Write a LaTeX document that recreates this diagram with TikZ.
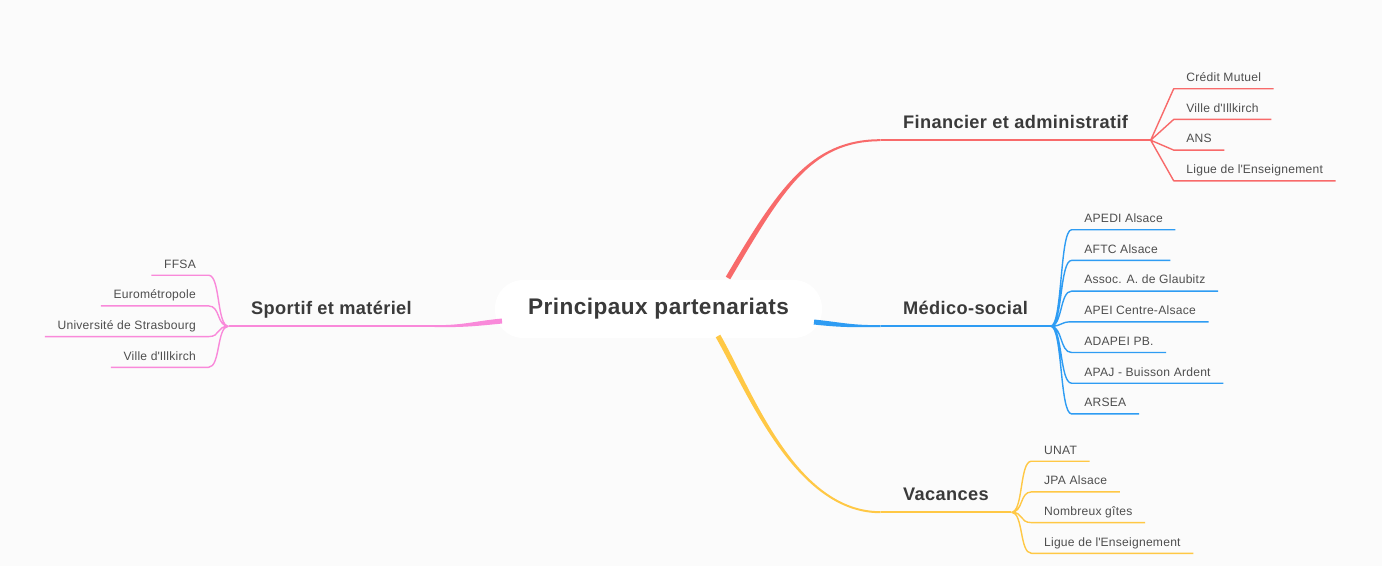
\documentclass[tikz,border=0pt]{standalone}
\usepackage{fontspec}
\setmainfont{Liberation Sans}[LetterSpace=2]
\usetikzlibrary{positioning,calc}

\definecolor{finred}{HTML}{F86A6A}
\definecolor{medblue}{HTML}{2E9CF3}
\definecolor{vacyellow}{HTML}{FFC845}
\definecolor{spopink}{HTML}{F989DA}
\definecolor{inkgray}{HTML}{3A3A3A}
\definecolor{paper}{HTML}{FBFBFB}

% tapered branch: colour, start, first control (offset), second control (dx from end), end, half width at start
\newcommand{\taperbranch}[7]{%
  \fill[#1] ($(#2)+(#6,#7)$) .. controls ($(#2)+(#3)+(#6,#7)$) and ($(#5)+(#4,1)$) .. ($(#5)+(0,1)$)
    -- ($(#5)-(0,1)$) .. controls ($(#5)+(#4,-1)$) and ($(#2)+(#3)-(#6,#7)$) .. ($(#2)-(#6,#7)$) -- cycle;}

\begin{document}
\begin{tikzpicture}[x=1pt,y=-1pt,node distance=10.3pt,
  centre node/.style={fill=white,rounded corners=28pt,minimum width=327pt,minimum height=58pt,
    font=\fontsize{22.6}{26}\selectfont\bfseries,text=inkgray},
  branch node/.style={inner xsep=22.5pt,inner ysep=8pt,text depth=4pt,
    font=\fontsize{18.2}{21}\selectfont\bfseries,text=inkgray},
  leaf node/.style={inner xsep=12.5pt,inner ysep=4pt,text height=9pt,text depth=3pt,
    font=\fontsize{12.1}{14}\selectfont,text=inkgray!90},
  branch line/.style={line width=2pt},
  leaf line/.style={line width=1.4pt,line join=round}]

  \useasboundingbox (0,0) rectangle (1382,566);
  \fill[paper] (0,0) rectangle (1382,566);

  \node[centre node] (root) at (658.5,309) {Principaux partenariats};

  % main branches
  \node[branch node,anchor=base west] (fin) at (880.5,128) {Financier et administratif};
  \node[branch node,anchor=base west] (med) at (880.5,314) {Médico-social};
  \node[branch node,anchor=base west] (vac) at (880.5,500) {Vacances};
  \node[branch node,anchor=base east] (spo) at (434.5,314) {Sportif et matériel};

  \taperbranch{finred}{728,278}{52,-88}{-70}{fin.south west}{2.2}{1.3}
  \taperbranch{medblue}{814,322}{28,3}{-30}{med.south west}{-0.3}{2.5}
  \taperbranch{vacyellow}{718,336}{32,56}{-85}{vac.south west}{-2.26}{1.29}
  \taperbranch{spopink}{502,321}{-30,3}{30}{spo.south east}{0.2}{2.5}

  \draw[finred,branch line] (fin.south west) -- (fin.south east);
  \draw[medblue,branch line] (med.south west) -- (med.south east);
  \draw[vacyellow,branch line] (vac.south west) -- (vac.south east);
  \draw[spopink,branch line] (spo.south west) -- (spo.south east);

  % leaves
  \node[leaf node,anchor=south west] (fin1) at ([shift={(23,-51.5)}]fin.south east) {Crédit Mutuel};
  \node[leaf node,below=of fin1.south west,anchor=north west] (fin2) {Ville d\textquotesingle Illkirch};
  \node[leaf node,below=of fin2.south west,anchor=north west] (fin3) {ANS};
  \node[leaf node,below=of fin3.south west,anchor=north west] (fin4) {Ligue de l\textquotesingle Enseignement};

  \node[leaf node,anchor=south west] (med1) at ([shift={(21,-96.5)}]med.south east) {APEDI Alsace};
  \node[leaf node,below=of med1.south west,anchor=north west] (med2) {AFTC Alsace};
  \node[leaf node,below=of med2.south west,anchor=north west] (med3) {Assoc. A. de Glaubitz};
  \node[leaf node,below=of med3.south west,anchor=north west] (med4) {APEI Centre-Alsace};
  \node[leaf node,below=of med4.south west,anchor=north west] (med5) {ADAPEI PB.};
  \node[leaf node,below=of med5.south west,anchor=north west] (med6) {APAJ - Buisson Ardent};
  \node[leaf node,below=of med6.south west,anchor=north west] (med7) {ARSEA};

  \node[leaf node,anchor=south west] (vac1) at ([shift={(20,-51)}]vac.south east) {UNAT};
  \node[leaf node,below=of vac1.south west,anchor=north west] (vac2) {JPA Alsace};
  \node[leaf node,below=of vac2.south west,anchor=north west] (vac3) {Nombreux gîtes};
  \node[leaf node,below=of vac3.south west,anchor=north west] (vac4) {Ligue de l\textquotesingle Enseignement};

  \node[leaf node,anchor=south east] (spo1) at ([shift={(-20,-51)}]spo.south west) {FFSA};
  \node[leaf node,below=of spo1.south east,anchor=north east] (spo2) {Eurométropole};
  \node[leaf node,below=of spo2.south east,anchor=north east] (spo3) {Université de Strasbourg};
  \node[leaf node,below=of spo3.south east,anchor=north east] (spo4) {Ville d\textquotesingle Illkirch};

  \draw[finred,leaf line]
    (fin.south east) -- (fin1.south west) -- (fin1.south east)
    (fin.south east) -- (fin2.south west) -- (fin2.south east)
    (fin.south east) -- (fin3.south west) -- (fin3.south east)
    (fin.south east) -- (fin4.south west) -- (fin4.south east);

  \draw[medblue,leaf line]
    (med.south east) .. controls +(12,0) and +(-12,0) .. (med1.south west) -- (med1.south east)
    (med.south east) .. controls +(12,0) and +(-12,0) .. (med2.south west) -- (med2.south east)
    (med.south east) .. controls +(12,0) and +(-12,0) .. (med3.south west) -- (med3.south east)
    (med.south east) .. controls +(12,0) and +(-12,0) .. (med4.south west) -- (med4.south east)
    (med.south east) .. controls +(12,0) and +(-12,0) .. (med5.south west) -- (med5.south east)
    (med.south east) .. controls +(12,0) and +(-12,0) .. (med6.south west) -- (med6.south east)
    (med.south east) .. controls +(12,0) and +(-12,0) .. (med7.south west) -- (med7.south east);

  \draw[vacyellow,leaf line]
    (vac.south east) .. controls +(12,0) and +(-12,0) .. (vac1.south west) -- (vac1.south east)
    (vac.south east) .. controls +(12,0) and +(-12,0) .. (vac2.south west) -- (vac2.south east)
    (vac.south east) .. controls +(12,0) and +(-12,0) .. (vac3.south west) -- (vac3.south east)
    (vac.south east) .. controls +(12,0) and +(-12,0) .. (vac4.south west) -- (vac4.south east);

  \draw[spopink,leaf line]
    (spo.south west) .. controls +(-12,0) and +(12,0) .. (spo1.south east) -- (spo1.south west)
    (spo.south west) .. controls +(-12,0) and +(12,0) .. (spo2.south east) -- (spo2.south west)
    (spo.south west) .. controls +(-12,0) and +(12,0) .. (spo3.south east) -- (spo3.south west)
    (spo.south west) .. controls +(-12,0) and +(12,0) .. (spo4.south east) -- (spo4.south west);
\end{tikzpicture}
\end{document}
